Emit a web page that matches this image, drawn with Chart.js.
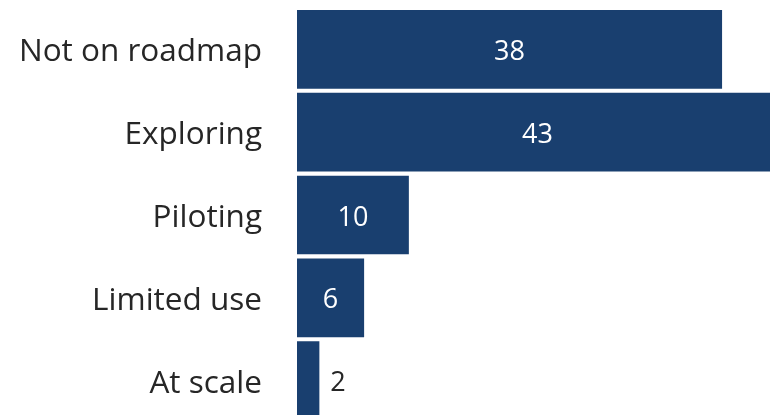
<!DOCTYPE html>
<html>
<head>
<meta charset="utf-8">
<script src="https://cdn.jsdelivr.net/npm/chart.js@4"></script>
<style>
  html, body { margin: 0; padding: 0; background: #fff; }
  .wrap { width: 770px; height: 415px; overflow: hidden; position: relative; }
  canvas { position: absolute; left: 0; top: 0; }
</style>
</head>
<body>
<div class="wrap">
  <canvas id="myChart" width="790" height="430"></canvas>
</div>
<script>
// data
const categories = ['Not on roadmap', 'Exploring', 'Piloting', 'Limited use', 'At scale'];
const values = [38, 43, 10, 6, 2];

const barColor = '#193f6f';
const textColor = '#262626';
const fontFamily = '"Open Sans", sans-serif';

// value labels: white inside the bar, dark next to it when the bar is too short
const valueLabels = {
    id: 'valueLabels',
    afterDatasetsDraw(chart) {
        const ctx = chart.ctx;
        const meta = chart.getDatasetMeta(0);
        ctx.save();
        ctx.font = '27px ' + fontFamily;
        ctx.textBaseline = 'middle';
        meta.data.forEach((bar, i) => {
            const w = bar.x - bar.base;
            const txt = String(values[i]);
            if (w > 40) {
                ctx.fillStyle = '#ffffff';
                ctx.textAlign = 'center';
                ctx.fillText(txt, (bar.x + bar.base) / 2, bar.y + 3);
            } else {
                ctx.fillStyle = textColor;
                ctx.textAlign = 'left';
                ctx.fillText(txt, bar.x + 11, bar.y + 3);
            }
        });
        ctx.restore();
    }
};

const data = {
    labels: categories,
    datasets: [{
        data: values,
        backgroundColor: barColor,
        borderWidth: 0,
        barPercentage: 1,
        categoryPercentage: 0.951
    }]
};

const config = {
    type: 'bar',
    data,
    options: {
        indexAxis: 'y',
        responsive: false,
        animation: false,
        layout: { padding: { left: 0, right: 12, top: 8, bottom: 8 } },
        plugins: {
            legend: { display: false },
            tooltip: { enabled: false }
        },
        scales: {
            x: {
                display: false,
                min: 0,
                max: 43
            },
            y: {
                grid: { display: false, drawTicks: false },
                border: { display: false },
                ticks: {
                    color: textColor,
                    font: { family: fontFamily, size: 31.5 },
                    padding: 35,
                    labelOffset: 3
                },
                afterFit(scale) {
                    // fixed axis width, and no extra room above/below for the labels
                    scale.width = 297;
                    scale.paddingTop = 0;
                    scale.paddingBottom = 0;
                }
            }
        }
    },
    plugins: [valueLabels]
};

const myChart = new Chart(document.getElementById('myChart'), config);
</script>
</body>
</html>
